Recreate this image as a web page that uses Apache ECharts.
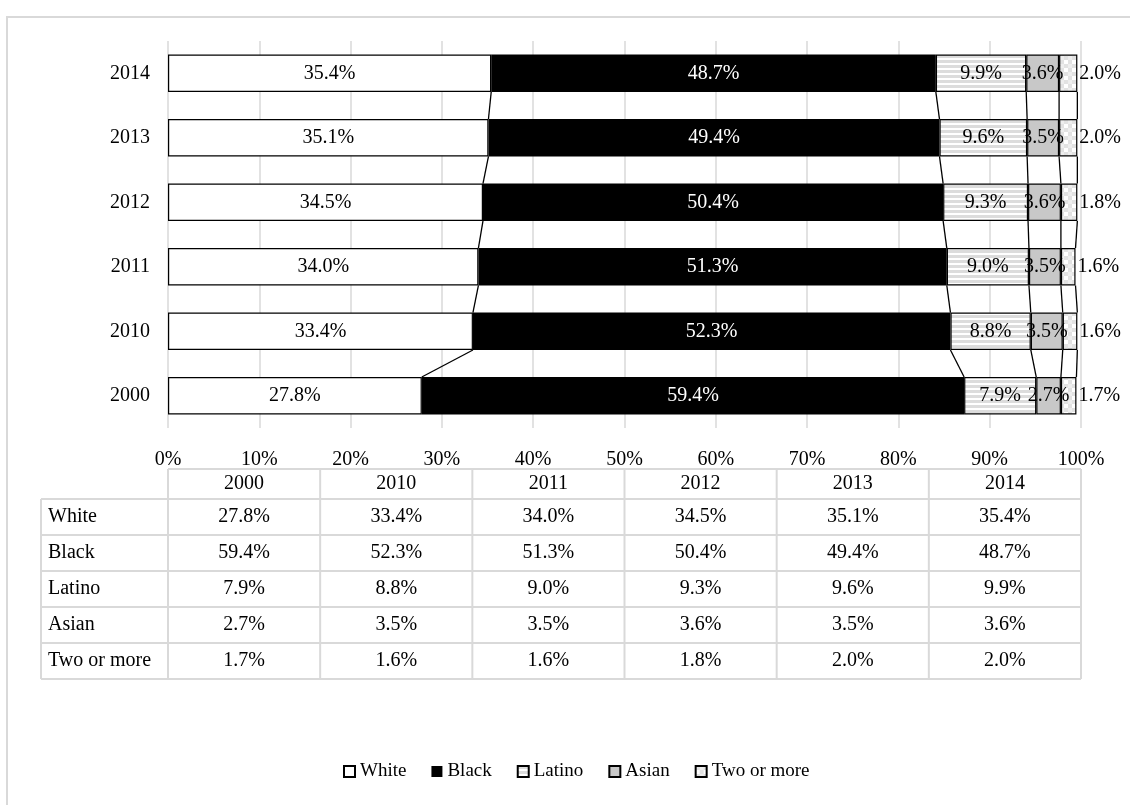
<!DOCTYPE html>
<html>
<head>
<meta charset="utf-8">
<script src="https://cdn.jsdelivr.net/npm/echarts@6/dist/echarts.min.js"></script>
<style>
  html, body { margin: 0; padding: 0; background: #fff; }
  #chart { width: 1130px; height: 805px; }
</style>
</head>
<body>
<div id="chart"></div>
<script>
// Share of students by race/ethnicity, per year (percent)
const years = ['2000', '2010', '2011', '2012', '2013', '2014'];
const white = [27.8, 33.4, 34.0, 34.5, 35.1, 35.4];
const black = [59.4, 52.3, 51.3, 50.4, 49.4, 48.7];
const latino = [7.9, 8.8, 9.0, 9.3, 9.6, 9.9];
const asian = [2.7, 3.5, 3.5, 3.6, 3.5, 3.6];
const twoOrMore = [1.7, 1.6, 1.6, 1.8, 2.0, 2.0];
const groupNames = ['White', 'Black', 'Latino', 'Asian', 'Two or more'];
const groupValues = [white, black, latino, asian, twoOrMore];

// Layout constants
const FONT = '"Liberation Serif", "Times New Roman", serif';
const GRID_LEFT = 168, GRID_RIGHT = 49, GRID_TOP = 41, GRID_BOTTOM = 377;
const BAR_RATIO = 0.58;

// Fill patterns
function stripePattern() {
  const c = document.createElement('canvas');
  c.width = 4; c.height = 5;
  const g = c.getContext('2d');
  g.fillStyle = '#ffffff'; g.fillRect(0, 0, 4, 5);
  g.fillStyle = '#dcdcdc'; g.fillRect(0, 0, 4, 3);
  return c;
}
function checkPattern() {
  const c = document.createElement('canvas');
  c.width = 8; c.height = 8;
  const g = c.getContext('2d');
  g.fillStyle = '#ffffff'; g.fillRect(0, 0, 8, 8);
  g.fillStyle = '#e2e2e2';
  g.fillRect(0, 0, 4, 4); g.fillRect(4, 4, 4, 4);
  g.fillStyle = '#eeeeee';
  g.fillRect(4, 0, 4, 4);
  return c;
}

const fills = [
  '#ffffff',
  '#000000',
  { image: stripePattern(), repeat: 'repeat' },
  '#c8c8c8',
  { image: checkPattern(), repeat: 'repeat' }
];
const labelColors = ['#000', '#fff', '#000', '#000', '#000'];

const barSeries = groupNames.map((name, k) => ({
  name: name,
  type: 'bar',
  stack: 'total',
  barWidth: (BAR_RATIO * 100) + '%',
  data: groupValues[k],
  itemStyle: {
    color: fills[k],
    borderColor: '#000',
    borderWidth: k === 1 ? 0 : 1.2
  },
  label: {
    show: true,
    position: k === 4 ? 'right' : 'inside',
    distance: k === 4 ? 2 : 5,
    color: labelColors[k],
    fontFamily: FONT,
    fontSize: 20,
    formatter: p => p.value.toFixed(1) + '%'
  },
  emphasis: { disabled: true },
  silent: true
}));

// Connector lines between segment boundaries of neighbouring bars
const cumulative = years.map((_, i) => {
  let s = 0;
  return groupValues.map(arr => (s += arr[i]));
});
const connectorSeries = {
  type: 'custom',
  name: 'connectors',
  silent: true,
  data: years.slice(0, -1).map((_, i) => [0, i]),
  encode: { x: 0, y: 1 },
  renderItem: function (params, api) {
    const i = params.dataIndex;
    const half = api.size([0, 1])[1] * BAR_RATIO / 2;
    const children = cumulative[i].map((v, k) => {
      const p0 = api.coord([v, i]);
      const p1 = api.coord([cumulative[i + 1][k], i + 1]);
      return {
        type: 'line',
        shape: { x1: p0[0], y1: p0[1] - half, x2: p1[0], y2: p1[1] + half },
        style: { stroke: '#000', lineWidth: 1.3 }
      };
    });
    return { type: 'group', children: children };
  }
};

// Data table under the chart
function buildTable() {
  const els = [];
  const plotW = 1130 - GRID_LEFT - GRID_RIGHT;
  const colW = plotW / years.length;
  const labelLeft = 41;
  const headTop = 469, headBottom = 499, rowH = 36;
  const tableBottom = headBottom + rowH * groupNames.length;
  const lineStyle = { stroke: '#d9d9d9', lineWidth: 2 };
  const line = (x1, y1, x2, y2) => els.push({
    type: 'line', silent: true,
    shape: { x1, y1, x2, y2 }, style: lineStyle
  });
  const text = (t, x, y, align) => els.push({
    type: 'text', silent: true,
    style: {
      text: t, x, y, fill: '#000',
      font: '20px ' + FONT,
      textAlign: align, textVerticalAlign: 'middle', verticalAlign: 'middle'
    }
  });
  // horizontal rules
  line(GRID_LEFT, headTop, GRID_LEFT + plotW, headTop);
  line(labelLeft, headBottom, GRID_LEFT + plotW, headBottom);
  for (let r = 1; r <= groupNames.length; r++) {
    line(labelLeft, headBottom + rowH * r, GRID_LEFT + plotW, headBottom + rowH * r);
  }
  // vertical rules
  line(labelLeft, headBottom, labelLeft, tableBottom);
  for (let c = 0; c <= years.length; c++) {
    line(GRID_LEFT + colW * c, headTop, GRID_LEFT + colW * c, tableBottom);
  }
  // header
  years.forEach((y, c) => text(y, GRID_LEFT + colW * (c + 0.5), (headTop + headBottom) / 2, 'center'));
  // rows
  groupNames.forEach((name, r) => {
    const cy = headBottom + rowH * (r + 0.5);
    text(name, labelLeft + 7, cy, 'left');
    groupValues[r].forEach((v, c) => text(v.toFixed(1) + '%', GRID_LEFT + colW * (c + 0.5), cy, 'center'));
  });
  // outer frame of the chart area
  els.push({
    type: 'rect', silent: true,
    shape: { x: 7, y: 17, width: 1200, height: 900 },
    style: { fill: 'none', stroke: '#d9d9d9', lineWidth: 2 }
  });
  return els;
}

const chart = echarts.init(document.getElementById('chart'), null, { renderer: 'canvas' });
chart.setOption({
  animation: false,
  backgroundColor: '#fff',
  textStyle: { fontFamily: FONT },
  grid: { left: GRID_LEFT, right: GRID_RIGHT, top: GRID_TOP, bottom: GRID_BOTTOM, containLabel: false },
  xAxis: {
    type: 'value',
    min: 0, max: 100, interval: 10,
    axisLine: { show: false },
    axisTick: { show: false },
    splitLine: { show: true, lineStyle: { color: '#d9d9d9', width: 1.5 } },
    axisLabel: {
      formatter: '{value}%',
      color: '#000', fontSize: 20, fontFamily: FONT, margin: 22
    }
  },
  yAxis: {
    type: 'category',
    data: years,
    axisLine: { show: false },
    axisTick: { show: false },
    axisLabel: { color: '#000', fontSize: 20, fontFamily: FONT, margin: 18 }
  },
  legend: {
    data: groupNames,
    top: 757,
    left: 338,
    icon: 'rect',
    itemWidth: 11,
    itemHeight: 11,
    itemGap: 25,
    selectedMode: false,
    textStyle: { color: '#000', fontSize: 19, fontFamily: FONT }
  },
  graphic: buildTable(),
  series: [...barSeries, connectorSeries]
});
</script>
</body>
</html>
